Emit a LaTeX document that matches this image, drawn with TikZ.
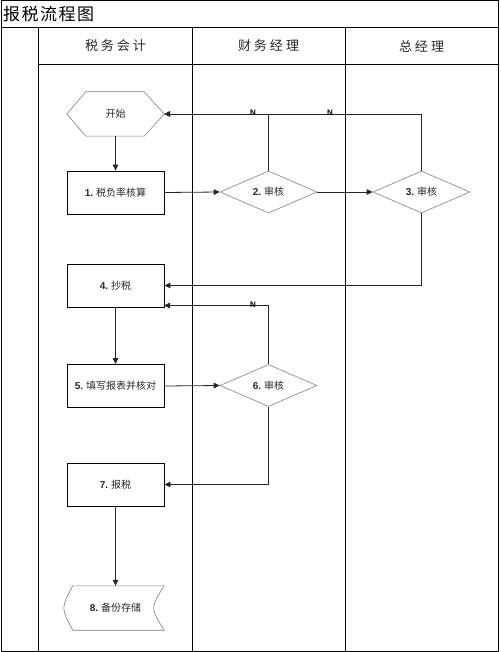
\documentclass[tikz,border=0pt]{standalone}
\usepackage{fontspec}
\setmainfont{Liberation Sans}
\newfontfamily\cjk{Noto Sans CJK SC}
\usetikzlibrary{shapes.geometric,arrows.meta}
\newcommand\mylbl{\fontsize{10}{12}\selectfont\cjk}
\newcommand\num[1]{{\fontspec{Liberation Sans}\bfseries #1}}
\begin{document}
\begin{tikzpicture}[x=1pt,y=-1pt,
  frame/.style={line width=1pt,draw=black},
  box/.style={rectangle,draw=black,line width=0.8pt,minimum width=97pt,minimum height=43pt,inner sep=0pt,font=\mylbl,text=black!85},
  dia/.style={diamond,draw=black!50,line width=0.6pt,minimum width=97pt,minimum height=42pt,aspect=2.3,inner sep=0pt,font=\mylbl,text=black!85},
  ghost/.style={rectangle,minimum width=97pt,minimum height=44pt,inner sep=0pt,font=\mylbl,text=black!85},
  outline/.style={draw=black!50,line width=0.6pt},
  conn/.style={draw=black!85,line width=0.8pt,-{Triangle[length=6pt,width=5.5pt]}},
  nlab/.style={font=\bfseries\fontsize{8}{9}\selectfont,inner sep=0pt,anchor=south},
  head/.style={font=\fontsize{13}{15}\selectfont\cjk,text=black!85,inner sep=0pt}
]
\useasboundingbox (0,0) rectangle (500,652);
% frame
\draw[frame] (1,1) rectangle (498,651);
\draw[frame] (1,28) -- (498,28);
\draw[frame] (38,65) -- (498,65);
\draw[frame] (38,28) -- (38,651);
\draw[frame] (192,28) -- (192,651);
\draw[frame] (345,28) -- (345,651);
% title and headers
\node[anchor=west,inner sep=0pt,font=\fontsize{17}{19}\selectfont\cjk] (title) at (3,14.5) {报\kern1.5pt 税\kern1.5pt 流\kern1.5pt 程\kern1.5pt 图};
\node[head] (h1) at (115.5,46) {税\kern3pt 务\kern3pt 会\kern3pt 计};
\node[head] (h2) at (268.5,46) {财\kern3pt 务\kern3pt 经\kern3pt 理};
\node[head] (h3) at (421.5,46) {总\kern3pt 经\kern3pt 理};
% nodes
\node[ghost] (start) at (115.5,114) {开始};
\draw[outline] (start.west) -- ([xshift=19pt]start.north west) -- ([xshift=-20pt]start.north east) -- (start.east) -- ([xshift=-20pt]start.south east) -- ([xshift=19pt]start.south west) -- cycle;
\node[box] (b1) at (115.5,192.5) {\num{1.} 税负率核算};
\node[dia] (d2) at (268.5,192) {\num{2.} 审核};
\node[dia] (d3) at (421.5,192) {\num{3.} 审核};
\node[box] (b4) at (115.5,285.5) {\num{4.} 抄税};
\node[box] (b5) at (115.5,386) {\num{5.} 填写报表并核对};
\node[dia] (d6) at (268.5,385.5) {\num{6.} 审核};
\node[box] (b7) at (115.5,484.5) {\num{7.} 报税};
\node[ghost] (s8) at (115.5,608) {\num{8.} 备份存储};
\draw[outline] ([xshift=6pt]s8.north west) -- (s8.north east)
  .. controls ([xshift=-14pt]s8.east) .. (s8.south east)
  -- ([xshift=6pt]s8.south west)
  .. controls ([xshift=-6pt]s8.west) .. ([xshift=6pt]s8.north west) -- cycle;
\coordinate (r4) at (164,305.5);
% connectors
\draw[conn] (start.south) -- (b1.north);
\draw[conn] (b1.east) -- (d2.west);
\draw[conn] (d2.east) -- (d3.west);
\draw[conn] (d3.north) |- (start.east);
\draw[conn] (d2.north) |- (start.east);
\draw[conn] (d3.south) |- (b4.east);
\draw[conn] (b4.south) -- (b5.north);
\draw[conn] (b5.east) -- (d6.west);
\draw[conn] (d6.north) |- (r4);
\draw[conn] (d6.south) |- (b7.east);
\draw[conn] (b7.south) -- (s8.north);
% N labels
\node[nlab] (n1) at (253,116) {N};
\node[nlab] (n2) at (330,116) {N};
\node[nlab] (n3) at (253,307.5) {N};
\end{tikzpicture}
\end{document}
